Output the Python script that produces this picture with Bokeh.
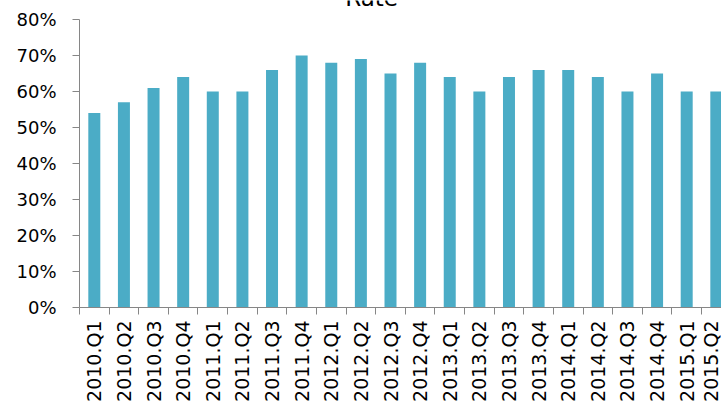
import math

from bokeh.plotting import figure
from bokeh.models import (ColumnDataSource, LinearAxis, FixedTicker, NumeralTickFormatter,
                          CustomJSTickFormatter, Range1d, Label)
from bokeh.embed import file_html
from bokeh.resources import INLINE

# Quarterly rate series
quarters = ["2010.Q1", "2010.Q2", "2010.Q3", "2010.Q4",
            "2011.Q1", "2011.Q2", "2011.Q3", "2011.Q4",
            "2012.Q1", "2012.Q2", "2012.Q3", "2012.Q4",
            "2013.Q1", "2013.Q2", "2013.Q3", "2013.Q4",
            "2014.Q1", "2014.Q2", "2014.Q3", "2014.Q4",
            "2015.Q1", "2015.Q2"]
rate = [0.54, 0.57, 0.61, 0.64,
        0.60, 0.60, 0.66, 0.70,
        0.68, 0.69, 0.65, 0.68,
        0.64, 0.60, 0.64, 0.66,
        0.66, 0.64, 0.60, 0.65,
        0.60, 0.60]
y_ticks = [0.0, 0.1, 0.2, 0.3, 0.4, 0.5, 0.6, 0.7, 0.8]

FONT = "DejaVu Sans"
AXIS_GREY = "#868686"
BAR_COLOR = "#4BACC6"

n = len(quarters)
centers = [i + 0.5 for i in range(n)]
boundaries = list(range(n + 1))
source = ColumnDataSource(dict(x=centers, rate=rate, quarter=quarters))

# headroom above 80% leaves space for the chart title inside the frame
p = figure(width=721, height=404, output_backend="svg", toolbar_location=None,
           x_range=Range1d(0, 21.675), y_range=Range1d(0, 0.8528),
           x_axis_type=None,
           min_border_left=79, min_border_top=0, min_border_right=0,
           min_border_bottom=97)
p.outline_line_color = None
p.ygrid.grid_line_color = None
p.background_fill_color = "white"
p.border_fill_color = "white"

p.vbar(x="x", top="rate", bottom=0, width=0.405, source=source,
       fill_color=BAR_COLOR, line_color=None)

# value axis
yax = p.yaxis[0]
yax.ticker = FixedTicker(ticks=y_ticks)
yax.bounds = (0, 0.8)
yax.formatter = NumeralTickFormatter(format="0%")
yax.major_tick_out = 7
yax.major_tick_in = 0
yax.minor_tick_line_color = None
yax.axis_line_color = AXIS_GREY
yax.major_tick_line_color = AXIS_GREY
yax.major_label_text_font = FONT
yax.major_label_text_font_size = "18px"
yax.major_label_text_color = "black"
yax.major_label_standoff = 16

# category axis: tick marks on the boundaries between quarters
edge_axis = LinearAxis(ticker=FixedTicker(ticks=boundaries),
                       formatter=CustomJSTickFormatter(code="return ''"),
                       major_tick_out=7, major_tick_in=0,
                       major_label_text_font_size="0px",
                       major_label_standoff=0,
                       axis_line_color=AXIS_GREY,
                       major_tick_line_color=AXIS_GREY,
                       minor_tick_line_color=None)
p.add_layout(edge_axis, "below")

# category labels centred under each bar
label_axis = LinearAxis(ticker=FixedTicker(ticks=centers),
                        formatter=CustomJSTickFormatter(
                            args=dict(labels=quarters),
                            code="const i = Math.floor(tick); return (i >= 0 && i < labels.length) ? labels[i] : '';"),
                        axis_line_color=None,
                        major_tick_line_color=None,
                        minor_tick_line_color=None,
                        major_label_orientation=math.pi / 2,
                        major_label_standoff=0,
                        major_label_text_font=FONT,
                        major_label_text_font_size="19px",
                        major_label_text_color="black")
p.add_layout(label_axis, "below")

# chart title, sitting at the very top edge
p.add_layout(Label(x=9.86, y=0.8611, text="Rate", text_align="center",
                   text_baseline="alphabetic", text_font=FONT,
                   text_font_size="23px", text_color="black"))

open("out.html", "w").write(file_html(p, INLINE))
